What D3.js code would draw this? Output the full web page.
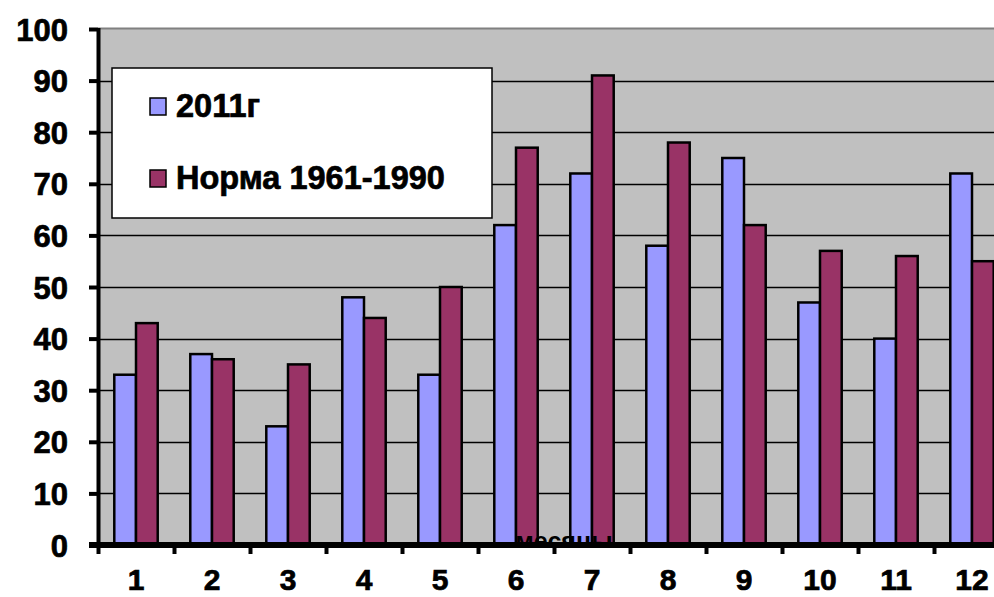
<!DOCTYPE html>
<html>
<head>
<meta charset="utf-8">
<script src="https://cdn.jsdelivr.net/npm/d3@7"></script>
<style>
  html, body { margin: 0; padding: 0; background: #fff; overflow: hidden; }
  svg { display: block; font-family: "Liberation Sans", Arial, sans-serif; }
</style>
</head>
<body>
<svg id="chart" width="994" height="597"></svg>
<script>
const months = ["1","2","3","4","5","6","7","8","9","10","11","12"];
const series = ["2011г", "Норма 1961-1990"];
const values2011 = [33, 37, 23, 48, 33, 62, 72, 58, 75, 47, 40, 72];
const valuesNorm = [43, 36, 35, 44, 50, 77, 91, 78, 62, 57, 56, 55];
const yTicks = [0, 10, 20, 30, 40, 50, 60, 70, 80, 90, 100];
const colors = ["#9999FF", "#993366"];
const axisTitle = "месяцы";

const svg = d3.select("#chart");
const pLeft = 98, pRight = 1010, pTop = 29, pBottom = 545;

const x = d3.scaleBand().domain(months).range([pLeft, pRight]).padding(0);
const xs = d3.scaleBand().domain(series).range([0, x.bandwidth()]).paddingInner(0).paddingOuter(0.75);
const y = d3.scaleLinear().domain([0, 100]).range([pBottom, pTop]);

// plot background
svg.append("rect").attr("x", pLeft).attr("y", pTop).attr("width", pRight - pLeft).attr("height", pBottom - pTop)
  .attr("fill", "#C0C0C0");
svg.append("line").attr("x1", pLeft).attr("x2", pRight).attr("y1", pTop - 0.5).attr("y2", pTop - 0.5)
  .attr("stroke", "#808080").attr("stroke-width", 2);

// gridlines
svg.append("g").selectAll("line").data(yTicks.filter(d => d > 0 && d < 100)).join("line")
  .attr("x1", pLeft).attr("x2", pRight)
  .attr("y1", d => Math.round(y(d)) + 0.5).attr("y2", d => Math.round(y(d)) + 0.5)
  .attr("stroke", "#000").attr("stroke-width", 1.3);

// bars
const data = months.map((m, i) => ({ m, vals: [values2011[i], valuesNorm[i]] }));
const groups = svg.append("g").selectAll("g").data(data).join("g")
  .attr("transform", d => `translate(${x(d.m)},0)`);
groups.selectAll("rect").data(d => d.vals.map((v, j) => ({ s: series[j], v, j }))).join("rect")
  .attr("x", d => xs(d.s))
  .attr("y", d => y(d.v))
  .attr("width", xs.bandwidth())
  .attr("height", d => y(0) - y(d.v))
  .attr("fill", d => colors[d.j])
  .attr("stroke", "#000").attr("stroke-width", 2.5);

// axis title (mostly hidden by the axis)
svg.append("clipPath").attr("id", "titleclip").append("rect")
  .attr("x", 0).attr("y", 0).attr("width", 994).attr("height", 548);
svg.append("text").attr("clip-path", "url(#titleclip)")
  .attr("x", 564).attr("y", 550).attr("text-anchor", "middle")
  .attr("font-size", 25).attr("font-weight", "bold").attr("fill", "#000")
  .text(axisTitle);

const boldText = sel => sel.attr("font-weight", "bold").attr("fill", "#000")
  .attr("stroke", "#000").attr("stroke-width", 0.7)
  .attr("font-family", "Liberation Sans, Arial, sans-serif");

// y axis
const yAxis = svg.append("g").attr("transform", `translate(${pLeft},0)`)
  .call(d3.axisLeft(y).tickValues(yTicks).tickSize(9).tickPadding(30).tickFormat(d3.format("d")));
yAxis.select(".domain").attr("stroke", "#000").attr("stroke-width", 4).attr("d", `M0.5,${pTop - 1}V${pBottom}`);
yAxis.selectAll(".tick line").attr("stroke", "#000").attr("stroke-width", 4);
yAxis.selectAll(".tick text").call(boldText).attr("font-size", 31).attr("dy", "0.36em").attr("x", -30);

// x axis
const xAxis = svg.append("g").attr("transform", `translate(0,${pBottom})`)
  .call(d3.axisBottom(x).tickSize(0).tickPadding(24));
xAxis.select(".domain").attr("stroke", "#000").attr("stroke-width", 6).attr("d", `M${pLeft - 9},0H${pRight}`);
xAxis.selectAll(".tick text").call(boldText).attr("font-size", 30).attr("dy", "0.71em");
// boundary ticks
svg.append("g").selectAll("line").data(months).join("line")
  .attr("x1", d => x(d) + 0.5).attr("x2", d => x(d) + 0.5)
  .attr("y1", pBottom).attr("y2", pBottom + 9)
  .attr("stroke", "#000").attr("stroke-width", 4);

// legend
const lg = svg.append("g");
lg.append("rect").attr("x", 112).attr("y", 68).attr("width", 380).attr("height", 150)
  .attr("fill", "#fff").attr("stroke", "#000").attr("stroke-width", 1.5);
const items = lg.selectAll("g.item").data(series).join("g").attr("class", "item")
  .attr("transform", (d, i) => `translate(150,${98 + i * 72})`);
items.append("rect").attr("x", 0).attr("y", 0).attr("width", 16).attr("height", 17)
  .attr("fill", (d, i) => colors[i]).attr("stroke", "#000").attr("stroke-width", 1.5);
items.append("text").attr("x", 26).attr("y", 19)
  .call(boldText).attr("font-size", 32.5)
  .text(d => d);
</script>
</body>
</html>
